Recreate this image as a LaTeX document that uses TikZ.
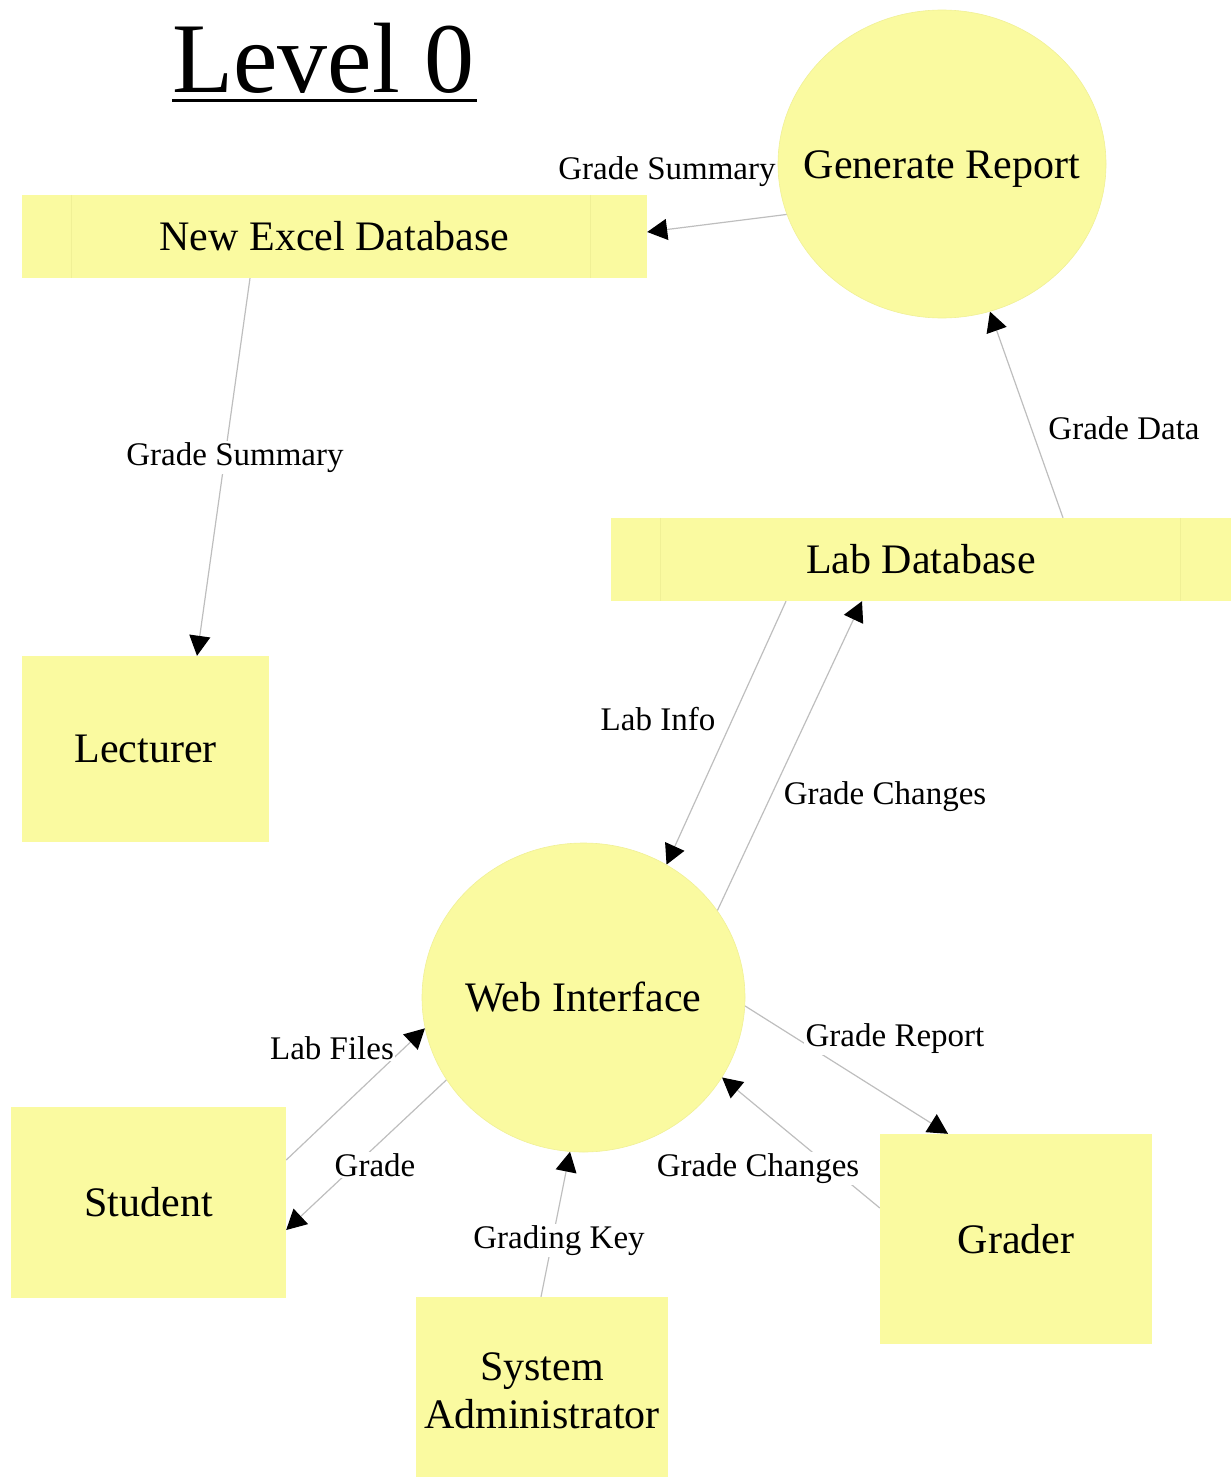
\documentclass[tikz,border=0pt]{standalone}
\usepackage{fontspec}
\setmainfont{Liberation Serif}
\usetikzlibrary{shapes.geometric,arrows.meta}
\definecolor{boxfill}{RGB}{250,250,160}
\definecolor{boxedge}{RGB}{240,240,150}
\definecolor{flowline}{RGB}{190,190,190}
\pgfdeclarelayer{edgelayer}
\pgfdeclarelayer{labellayer}
\pgfsetlayers{edgelayer,labellayer,main}
\newcommand{\proctext}[1]{\makebox[0pt]{\raisebox{-14pt}[0pt][0pt]{#1}}}
\tikzset{
  entity/.style={rectangle, fill=boxfill, draw=none, inner sep=0pt, font=\fontsize{42}{48}\selectfont, align=center},
  store/.style={rectangle, fill=boxfill, draw=none, inner sep=0pt, font=\fontsize{42}{48}\selectfont},
  process/.style={ellipse, fill=boxfill, draw=boxedge, line width=0.6pt, inner sep=0pt, font=\fontsize{42}{48}\selectfont},
  flow/.style={draw=flowline, line width=1.2pt, -{Triangle[length=20pt,width=21pt,color=black]}},
  flowlabel/.style={anchor=base, fill=white, inner sep=1.5pt, font=\fontsize{33}{38}\selectfont},
  storeline/.style={draw=boxedge, line width=0.8pt}
}
\begin{document}
\begin{tikzpicture}[x=1pt,y=-1pt]
\useasboundingbox (0,0) rectangle (1231,1477);

% title
\node[anchor=base west, inner sep=0pt, font=\fontsize{100}{110}\selectfont] (title) at (172,93) {Level 0};
\draw[line width=3pt] (172,101) -- (477,101);

% stores
\node[store, minimum width=625pt, minimum height=83pt] (excel) at (334.5,236.5) {New Excel Database};
\draw[storeline] ([xshift=50pt]excel.north west) -- ([xshift=50pt]excel.south west);
\draw[storeline] ([xshift=-57pt]excel.north east) -- ([xshift=-57pt]excel.south east);

\node[store, minimum width=620pt, minimum height=83pt] (labdb) at (921,559.5) {Lab Database};
\draw[storeline] ([xshift=50pt]labdb.north west) -- ([xshift=50pt]labdb.south west);
\draw[storeline] ([xshift=-51pt]labdb.north east) -- ([xshift=-51pt]labdb.south east);

% processes
\node[process, minimum width=328pt, minimum height=308pt] (gen) at (942,164) {\proctext{Generate Report}};
\node[process, minimum width=323pt, minimum height=309pt] (web) at (583.5,997.5) {\proctext{Web Interface}};

% entities
\node[entity, minimum width=247pt, minimum height=186pt] (lect) at (145.5,749) {Lecturer};
\node[entity, minimum width=275pt, minimum height=191pt] (student) at (148.5,1202.5) {Student};
\node[entity, minimum width=252pt, minimum height=188pt] (admin) at (542,1391) {System\\Administrator};
\node[entity, minimum width=272pt, minimum height=210pt] (grader) at (1016,1239) {Grader};

\begin{pgfonlayer}{edgelayer}
\draw[flow] (gen.198.3) -- ([yshift=4.5pt]excel.east);
\draw[flow] ([xshift=-84.5pt]excel.south) -- ([xshift=51.5pt]lect.north);
\draw[flow] ([xshift=142pt]labdb.north) -- (gen.288);
\draw[flow] ([xshift=-135pt]labdb.south) -- (web.58.7);
\draw[flow] (web.33) -- ([xshift=-59pt]labdb.south);
\draw[flow] ([yshift=42.5pt]student.east) -- (web.191.8);
\draw[flow] (web.211.8) -- ([yshift=-27.5pt]student.east);
\draw[flow] ([xshift=-1pt]admin.north) -- (web.265);
\draw[flow] (web.357.3) -- ([xshift=-68pt]grader.north);
\draw[flow] ([yshift=31pt]grader.west) -- (web.330);
\end{pgfonlayer}

\begin{pgfonlayer}{labellayer}
\node[flowlabel] (l1) at (667,179) {Grade Summary};
\node[flowlabel] (l2) at (235,465) {Grade Summary};
\node[flowlabel] (l3) at (1124,439) {Grade Data};
\node[flowlabel] (l4) at (658,730) {Lab Info};
\node[flowlabel] (l5) at (885,804) {Grade Changes};
\node[flowlabel] (l6) at (332,1059) {Lab Files};
\node[flowlabel] (l7) at (375,1176) {Grade};
\node[flowlabel] (l8) at (559,1248) {Grading Key};
\node[flowlabel] (l9) at (895,1046) {Grade Report};
\node[flowlabel] (l10) at (758,1176) {Grade Changes};
\end{pgfonlayer}
\end{tikzpicture}
\end{document}
